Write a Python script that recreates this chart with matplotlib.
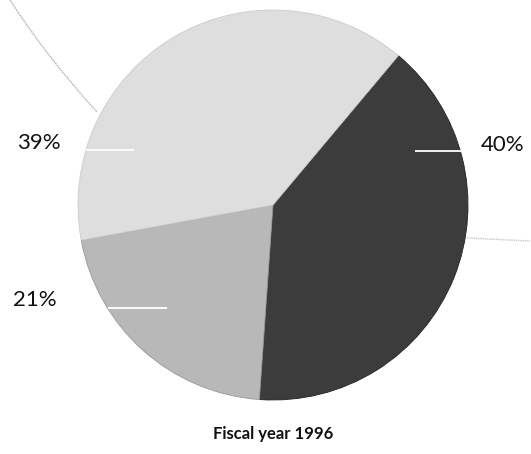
import numpy as np
import matplotlib.pyplot as plt
from matplotlib.path import Path
from matplotlib.patches import PathPatch

# slice values, clockwise from the upper right
shares = [40, 21, 39]
labels = ["40%", "21%", "39%"]
colors = ["#3c3c3c", "#b8b8b8", "#dedede"]
title = "Fiscal year 1996"

W, H = 531, 454
cx, cy, R = 273, 205, 195   # pie centre and radius in pixels


def px(x, y):
    # pixel position -> data units (pie radius = 1)
    return (x - cx) / R, (cy - y) / R


fig = plt.figure(figsize=(W / 100, H / 100), dpi=100)
ax = fig.add_axes([0, 0, 1, 1])

wedges, _ = ax.pie(shares, colors=colors, startangle=50, counterclock=False,
                   radius=1, center=(0, 0),
                   wedgeprops=dict(linewidth=0.6, edgecolor="#222222"))
wedges[1].set_edgecolor("#999999")
wedges[2].set_edgecolor("#cccccc")

# faint background curves from the scan
verts = [px(10, 0), px(45, 55), px(97, 112)]
ax.add_patch(PathPatch(Path(verts, [Path.MOVETO, Path.CURVE3, Path.CURVE3]),
                       fill=False, edgecolor="#b0b0b0", lw=1.0, ls=(0, (1, 0.6))))
ax.plot(*zip(px(467, 238), px(530, 241)), color="#c8c8c8", lw=1.0, ls=(0, (1, 0.6)))

# leader lines (white, inside the slices) and labels
leaders = [((415, 151), (462, 151)), ((108, 308), (167, 308)), ((86, 150), (134, 150))]
label_pos = [(503, 145), (35, 300), (39, 143)]
for (a, b), lab, (lx, ly) in zip(leaders, labels, label_pos):
    ax.plot(*zip(px(*a), px(*b)), color="white", lw=1.3, solid_capstyle="butt")
    ax.text(*px(lx, ly), lab, ha="center", va="center", fontsize=16,
            family="Lato", color="#111111")

ax.text(*px(273, 434), title, ha="center", va="center", fontsize=12,
        family="Lato", fontweight="bold", color="#111111")

ax.set_xlim(-cx / R, (W - cx) / R)
ax.set_ylim((cy - H) / R, cy / R)
ax.set_aspect("auto")
ax.axis("off")

fig.savefig("out.png", dpi=100)
plt.close(fig)
